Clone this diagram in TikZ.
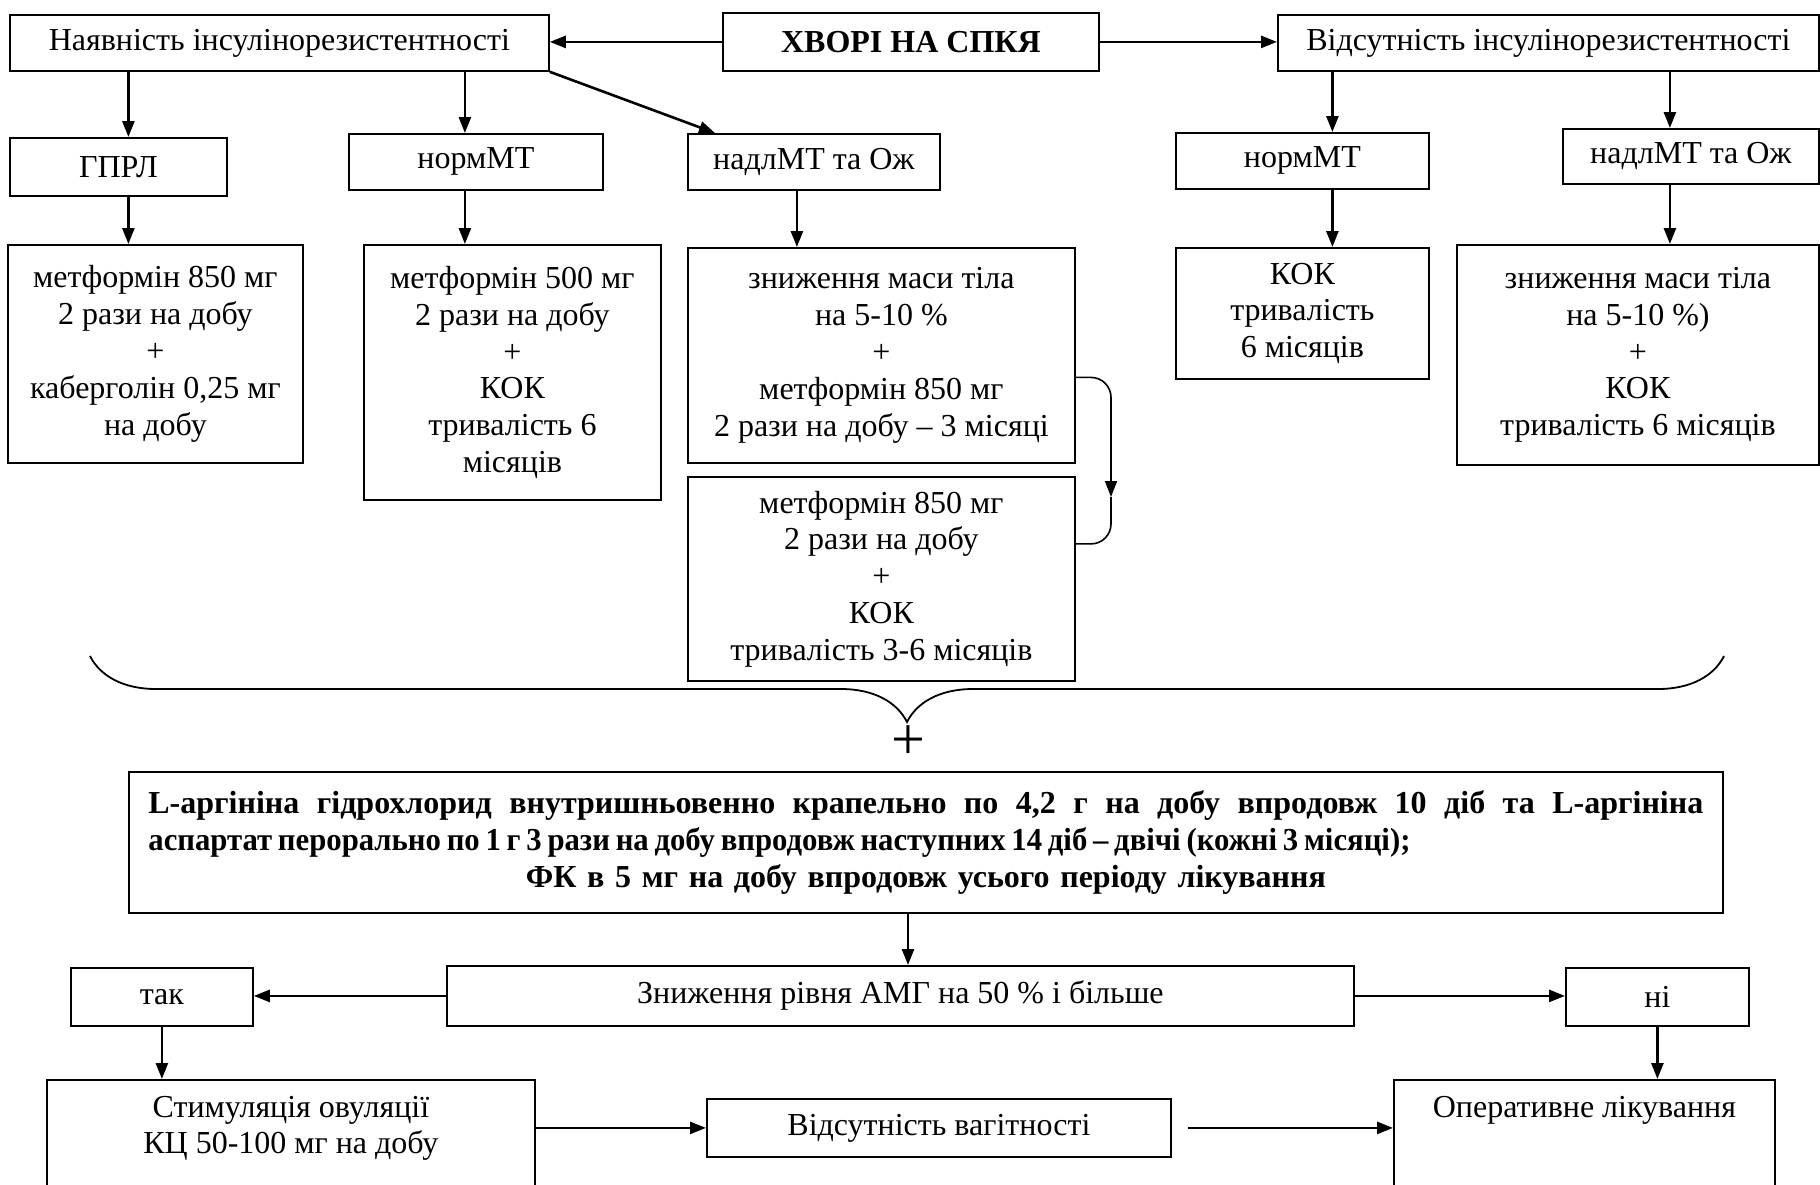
\documentclass[tikz,border=0pt]{standalone}
\usepackage{fontspec}
\setmainfont{Liberation Serif}
\newfontfamily\condserif{Liberation Serif}[FakeStretch=0.96]
\usetikzlibrary{arrows.meta}
\usetikzlibrary{decorations.pathreplacing}
\tikzset{box/.style = {draw, line width = 0.9pt, anchor = north west, align = center, inner sep = 0,
    font = \fontsize{16}{18.4}\selectfont}}
\tikzset{arr/.style = {line width = 1.3pt, -{Triangle[length = 8pt, width = 6pt]}}}

\begin{document}
\begin{tikzpicture}[x = 0.5pt, y = -0.5pt]
  \useasboundingbox (0, 0) rectangle (1820, 1184);
  \fill [white] (0, 0) rectangle (1820, 1184);
  \clip (0, 0) rectangle (1820, 1184);
  % top row
  \node [box, minimum width = 269.5pt, minimum height = 28pt] (ir) at (9, 14) {Наявність інсулінорезистентності};
  \node [box, minimum width = 188pt, minimum height = 29pt, font = \fontsize{16}{18.4}\selectfont\bfseries] (pcos) at (722, 12) {ХВОРІ НА СПКЯ};
  \node [box, minimum width = 270.5pt, minimum height = 28pt] (noir) at (1277, 14) {Відсутність інсулінорезистентності};
  % groups
  \node [box, minimum width = 108.5pt, minimum height = 29pt] (hprl) at (9, 137) {ГПРЛ};
  \node [box, minimum width = 127pt, minimum height = 28pt] (norma) at (348, 133) {нормМТ};
  \node [box, minimum width = 126pt, minimum height = 28pt] (obesa) at (687, 133) {надлМТ та Ож};
  \node [box, minimum width = 126.5pt, minimum height = 28pt] (normb) at (1175, 132) {нормМТ};
  \node [box, minimum width = 128pt, minimum height = 27.5pt] (obesb) at (1562, 128) {надлМТ та Ож};
  % treatment
  \node [box, minimum width = 147.5pt, minimum height = 109pt] (treathprl) at (7, 244) {метформін 850 мг\\2 рази на добу\\+\\каберголін 0,25 мг\\на добу};
  \node [box, minimum width = 148.5pt, minimum height = 127.5pt] (treatnorma) at (363, 244) {метформін 500 мг\\2 рази на добу\\+\\КОК\\тривалість 6\\місяців};
  \node [box, minimum width = 193.5pt, minimum height = 107.5pt] (treatobesa) at (687, 247) {зниження маси тіла\\на 5-10 \%\\+\\метформін 850 мг\\2 рази на добу – 3 місяці};
  \node [box, minimum width = 193.5pt, minimum height = 102pt] (nexta) at (687, 476) {метформін 850 мг\\2 рази на добу\\+\\КОК\\тривалість 3-6 місяців};
  \node [box, minimum width = 126.5pt, minimum height = 65.5pt] (treatnormb) at (1175, 247) {КОК\\тривалість\\6 місяців};
  \node [box, minimum width = 181pt, minimum height = 110pt] (treatobesb) at (1456, 244) {зниження маси тіла\\на 5-10 \%)\\+\\КОК\\тривалість 6 місяців};
  % common part
  \draw [line width = 0.9pt, decorate, decoration = {brace, mirror, amplitude = 33pt}] (90, 656) -- (1724, 656);
  \node [font = \fontsize{30}{30}\selectfont] (plus) at (908, 743) {+};
  \node [box, minimum width = 797pt, minimum height = 70.5pt, text width = 777.5pt, align = left,
    font = \fontsize{16}{18.7}\selectfont\bfseries] (arg) at (128, 771)
    {\makebox[777.5pt][s]{\spaceskip = 0.18em plus 1fil\relax L-аргініна гідрохлорид внутришньовенно крапельно по 4,2 г на добу впродовж 10 діб та L-аргініна}\\
     {\condserif\bfseries\spaceskip = 0.18em\relax аспартат перорально по 1 г 3 рази на добу впродовж наступних 14 діб – двічі (кожні 3 місяці);}\\
     \makebox[777.5pt]{ФК в 5 мг на добу впродовж усього періоду лікування}};
  % result
  \node [box, minimum width = 91pt, minimum height = 29pt] (yes) at (70, 967) {так};
  \node [box, minimum width = 453.5pt, minimum height = 30pt] (amh) at (446, 965) {Зниження рівня АМГ на 50 \% і більше};
  \node [box, minimum width = 91.5pt, minimum height = 29pt] (no) at (1565, 967) {ні};
  \node [box, minimum width = 244pt, minimum height = 120pt] (stim) at (46, 1079) {};
  \node [box, draw = none, anchor = north, inner ysep = 8pt] (stimtext) at (stim.north) {Стимуляція овуляції\\КЦ 50-100 мг на добу};
  \node [box, minimum width = 232pt, minimum height = 29pt] (nopreg) at (706, 1098) {Відсутність вагітності};
  \node [box, minimum width = 190.5pt, minimum height = 120pt] (surg) at (1393, 1079) {};
  \node [box, draw = none, anchor = north, inner ysep = 8pt] (surgtext) at (surg.north) {Оперативне лікування};
  % arrows
  \draw [arr] (pcos.west) -- (pcos.west -| ir.east);
  \draw [arr] (pcos.east) -- (pcos.east -| noir.west);
  \draw [arr] ([xshift = 5pt]hprl.north |- ir.south) -- ([xshift = 5pt]hprl.north);
  \draw [arr] ([xshift = -5.5pt]norma.north |- ir.south) -- ([xshift = -5.5pt]norma.north);
  \draw [arr] (ir.south east) -- ([xshift = 14pt]obesa.north west);
  \draw [arr] ([xshift = 15pt]normb.north |- noir.south) -- ([xshift = 15pt]normb.north);
  \draw [arr] ([xshift = -10.5pt]obesb.north |- noir.south) -- ([xshift = -10.5pt]obesb.north);
  \draw [arr] ([xshift = 5pt]hprl.south) -- ([xshift = 5pt]hprl.south |- treathprl.north);
  \draw [arr] ([xshift = -5.5pt]norma.south) -- ([xshift = -5.5pt]norma.south |- treatnorma.north);
  \draw [arr] ([xshift = -8.5pt]obesa.south) -- ([xshift = -8.5pt]obesa.south |- treatobesa.north);
  \draw [arr] ([xshift = 15pt]normb.south) -- ([xshift = 15pt]normb.south |- treatnormb.north);
  \draw [arr] ([xshift = -10.5pt]obesb.south) -- ([xshift = -10.5pt]obesb.south |- treatobesb.north);
  \coordinate (turn) at (1111, 497);
  \draw [line width = 0.8pt, rounded corners = 10pt, -{Triangle[length = 8pt, width = 6pt]}] ([yshift = -11pt]treatobesa.east) -| (turn);
  \draw [line width = 0.8pt, rounded corners = 10pt] (turn) |- ([yshift = 17.5pt]nexta.east);
  \draw [arr] (arg.south -| plus) -- (amh.north -| plus);
  \draw [arr] (amh.west) -- (amh.west -| yes.east);
  \draw [arr] (amh.east) -- (amh.east -| no.west);
  \draw [arr] (yes.south) -- (yes.south |- stim.north);
  \draw [arr] (no.south) -- (no.south |- surg.north);
  \draw [arr] (nopreg.west -| stim.east) -- (nopreg.west);
  \draw [arr, shorten <= 8pt] (nopreg.east) -- (nopreg.east -| surg.west);
\end{tikzpicture}
\end{document}
